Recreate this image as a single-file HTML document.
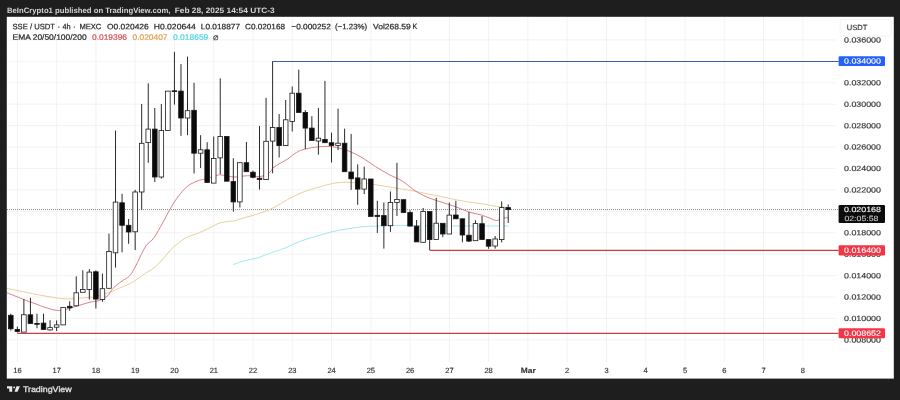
<!DOCTYPE html>
<html lang="en"><head><meta charset="utf-8"><title>SSE / USDT chart</title>
<style>
html,body{margin:0;padding:0;background:#1e1e1e;}
body{width:900px;height:400px;overflow:hidden;position:relative;font-family:"Liberation Sans",sans-serif;}
svg{position:absolute;left:0;top:0;display:block;will-change:transform}
text{font-family:"Liberation Sans",sans-serif;}
.ax{font-size:7.5px;fill:#363636;stroke:#363636;stroke-width:0.17px;}
.lg{font-size:7.8px;fill:#2a2a2a;stroke:#2a2a2a;stroke-width:0.22px;}
.hd{font-size:7.8px;font-weight:bold;fill:#d4d4d4;}
</style></head><body>
<svg width="900" height="400" viewBox="0 0 900 400">
<rect x="0" y="0" width="900" height="400" fill="#1e1e1e"/>
<rect x="6.8" y="16.8" width="887" height="361.8" fill="#ffffff"/>

<g stroke="#ebebed" stroke-width="0.6" fill="none">
<line x1="17.40" y1="17" x2="17.40" y2="362"/>
<line x1="56.67" y1="17" x2="56.67" y2="362"/>
<line x1="95.94" y1="17" x2="95.94" y2="362"/>
<line x1="135.21" y1="17" x2="135.21" y2="362"/>
<line x1="174.48" y1="17" x2="174.48" y2="362"/>
<line x1="213.75" y1="17" x2="213.75" y2="362"/>
<line x1="253.02" y1="17" x2="253.02" y2="362"/>
<line x1="292.29" y1="17" x2="292.29" y2="362"/>
<line x1="331.56" y1="17" x2="331.56" y2="362"/>
<line x1="370.83" y1="17" x2="370.83" y2="362"/>
<line x1="410.10" y1="17" x2="410.10" y2="362"/>
<line x1="449.37" y1="17" x2="449.37" y2="362"/>
<line x1="488.64" y1="17" x2="488.64" y2="362"/>
<line x1="527.91" y1="17" x2="527.91" y2="362"/>
<line x1="567.18" y1="17" x2="567.18" y2="362"/>
<line x1="606.45" y1="17" x2="606.45" y2="362"/>
<line x1="645.72" y1="17" x2="645.72" y2="362"/>
<line x1="684.99" y1="17" x2="684.99" y2="362"/>
<line x1="724.26" y1="17" x2="724.26" y2="362"/>
<line x1="763.53" y1="17" x2="763.53" y2="362"/>
<line x1="802.80" y1="17" x2="802.80" y2="362"/>
<line x1="7" y1="339.89" x2="836" y2="339.89"/>
<line x1="7" y1="318.46" x2="836" y2="318.46"/>
<line x1="7" y1="297.03" x2="836" y2="297.03"/>
<line x1="7" y1="275.60" x2="836" y2="275.60"/>
<line x1="7" y1="254.17" x2="836" y2="254.17"/>
<line x1="7" y1="232.74" x2="836" y2="232.74"/>
<line x1="7" y1="211.31" x2="836" y2="211.31"/>
<line x1="7" y1="189.88" x2="836" y2="189.88"/>
<line x1="7" y1="168.45" x2="836" y2="168.45"/>
<line x1="7" y1="147.02" x2="836" y2="147.02"/>
<line x1="7" y1="125.59" x2="836" y2="125.59"/>
<line x1="7" y1="104.16" x2="836" y2="104.16"/>
<line x1="7" y1="82.73" x2="836" y2="82.73"/>
<line x1="7" y1="61.30" x2="836" y2="61.30"/>
<line x1="7" y1="39.87" x2="836" y2="39.87"/>
</g>
<line x1="7" y1="209.55" x2="838" y2="209.55" stroke="#8a8a8a" stroke-width="1" stroke-dasharray="1 1"/>
<path d="M233.4,264.6 C235.3,263.9 241.1,261.7 245.0,260.6 C248.9,259.5 253.0,259.2 257.0,258.0 C261.0,256.8 264.3,255.3 269.0,253.6 C273.7,251.9 279.7,250.1 285.0,248.0 C290.3,245.9 295.7,243.0 301.0,241.0 C306.3,239.0 311.7,237.6 317.0,236.0 C322.3,234.4 327.7,232.8 333.0,231.6 C338.3,230.4 343.7,229.4 349.0,228.6 C354.3,227.8 360.3,227.0 365.0,226.6 C369.7,226.2 370.3,226.2 377.0,226.0 C383.7,225.8 396.2,225.4 405.0,225.4 C413.8,225.4 420.8,225.7 430.0,225.8 C439.2,225.9 450.0,226.0 460.0,226.0 C470.0,226.0 481.9,226.0 490.0,226.0 C498.1,226.0 505.4,226.0 508.5,226.0" fill="none" stroke="#9be7ee" stroke-width="0.95" stroke-linejoin="round"/>
<path d="M7.0,288.3 C9.6,288.9 16.2,290.3 22.5,291.6 C28.8,292.9 37.9,294.8 45.0,296.0 C52.1,297.2 58.2,298.5 65.0,298.8 C71.8,299.1 79.8,298.2 85.5,297.7 C91.2,297.2 94.5,297.1 99.0,296.0 C103.5,294.9 109.3,292.4 112.5,291.2 C115.7,290.0 115.5,289.8 118.2,288.6 C121.0,287.4 126.0,285.6 129.2,284.0 C132.5,282.4 134.8,280.8 137.5,279.0 C140.2,277.2 143.0,274.8 145.8,273.0 C148.5,271.2 151.2,270.2 154.0,268.0 C156.8,265.8 159.5,262.7 162.2,259.8 C165.0,256.8 167.8,252.9 170.5,250.1 C173.2,247.3 176.0,244.8 178.8,242.7 C181.5,240.5 184.2,238.6 187.0,237.2 C189.8,235.8 192.5,235.4 195.2,234.3 C198.0,233.2 200.8,232.1 203.5,230.8 C206.2,229.5 209.0,228.1 211.8,226.8 C214.5,225.4 217.0,223.7 220.0,222.8 C223.0,221.9 227.8,221.6 230.0,221.2 C232.2,220.9 230.7,221.7 233.5,221.0 C236.3,220.3 242.5,218.3 247.0,217.0 C251.5,215.7 256.0,214.7 260.5,213.1 C265.0,211.5 269.5,209.8 274.0,207.5 C278.5,205.2 283.0,202.0 287.5,199.6 C292.0,197.2 296.5,194.8 301.0,192.9 C305.5,191.0 310.0,189.8 314.5,188.4 C319.0,187.0 324.2,185.5 328.0,184.6 C331.8,183.7 334.0,183.2 337.0,182.8 C340.0,182.3 342.6,182.2 346.0,182.2 C349.4,182.2 353.3,182.7 357.5,183.0 C361.7,183.3 365.8,183.3 371.0,184.0 C376.2,184.7 383.8,186.1 389.0,186.9 C394.2,187.8 398.0,188.3 402.5,189.1 C407.0,189.8 411.5,190.5 416.0,191.4 C420.5,192.3 425.0,193.4 429.5,194.3 C434.0,195.2 438.5,196.1 443.0,197.0 C447.5,197.9 452.0,198.9 456.5,199.8 C461.0,200.7 466.1,201.6 470.0,202.2 C473.9,202.8 476.0,202.9 480.0,203.5 C484.0,204.1 490.3,205.4 494.0,206.0 C497.7,206.6 499.5,206.8 502.0,207.0 C504.5,207.2 507.8,207.3 509.0,207.4" fill="none" stroke="#ead09c" stroke-width="1" stroke-linejoin="round"/>
<path d="M7.0,292.8 C9.6,293.8 17.7,297.1 22.5,299.0 C27.3,300.9 32.2,302.6 36.0,304.0 C39.8,305.4 41.6,306.3 45.0,307.4 C48.4,308.4 52.9,309.9 56.2,310.3 C59.6,310.7 61.9,310.3 65.2,309.6 C68.6,308.9 72.4,307.5 76.5,306.2 C80.6,305.0 86.2,303.1 90.0,302.2 C93.8,301.3 96.0,301.7 99.0,300.6 C102.0,299.5 105.7,297.5 108.0,295.5 C110.3,293.5 110.6,290.9 112.8,288.6 C114.9,286.3 118.2,283.8 121.0,281.8 C123.8,279.7 127.2,278.2 129.2,276.2 C131.3,274.3 132.1,272.3 133.5,270.0 C134.9,267.7 135.5,266.5 137.5,262.5 C139.5,258.5 143.0,250.1 145.8,246.0 C148.5,241.9 151.2,241.7 154.0,237.8 C156.8,233.8 159.8,227.9 162.8,222.6 C165.8,217.3 168.9,210.9 171.8,206.1 C174.7,201.3 177.5,197.2 180.3,193.8 C183.1,190.3 185.6,187.7 188.5,185.5 C191.4,183.3 195.7,181.8 198.0,180.8 C200.3,179.8 199.5,180.4 202.5,179.6 C205.5,178.8 213.0,176.6 216.0,175.8 C219.0,175.0 217.5,174.6 220.5,174.8 C223.5,175.0 229.5,176.8 234.0,177.0 C238.5,177.2 243.0,175.8 247.5,175.7 C252.0,175.6 257.2,177.0 261.0,176.4 C264.8,175.8 267.8,173.6 270.0,172.0 C272.2,170.4 271.1,169.2 274.0,167.0 C276.9,164.8 283.8,161.5 287.5,159.1 C291.2,156.7 293.5,154.1 296.5,152.4 C299.5,150.7 301.8,149.9 305.5,149.0 C309.2,148.1 314.5,147.1 319.0,146.8 C323.5,146.4 327.6,146.1 332.5,146.8 C337.4,147.4 343.6,149.1 348.5,150.9 C353.4,152.7 357.5,155.0 362.0,157.6 C366.5,160.2 371.0,163.8 375.5,166.6 C380.0,169.4 384.5,172.1 389.0,174.5 C393.5,176.9 398.0,178.4 402.5,181.2 C407.0,184.1 411.5,188.6 416.0,191.4 C420.5,194.2 425.0,196.2 429.5,198.1 C434.0,200.0 438.5,201.1 443.0,202.6 C447.5,204.1 452.0,205.5 456.5,207.1 C461.0,208.7 465.9,211.0 470.0,212.3 C474.1,213.6 477.7,213.9 481.0,214.9 C484.3,215.9 487.4,217.3 490.0,218.2 C492.6,219.2 494.1,220.5 496.4,220.5 C498.7,220.5 501.8,218.4 503.8,218.0 C505.8,217.6 507.7,217.8 508.5,217.8" fill="none" stroke="#d67a81" stroke-width="0.95" stroke-linejoin="round"/>
<line x1="272.6" y1="61.45" x2="838.6" y2="61.45" stroke="#3362ad" stroke-width="1.05"/>
<line x1="429.7" y1="250.35" x2="838.6" y2="250.35" stroke="#cf3c48" stroke-width="1.15"/>
<line x1="17.3" y1="333.3" x2="838.6" y2="333.3" stroke="#cf3c48" stroke-width="1.15"/>
<g stroke="#1a1a1a" stroke-width="0.8">
<line x1="10.80" y1="313.7" x2="10.80" y2="330.6" stroke="#2a2a2a" stroke-width="1"/>
<rect x="8.50" y="315.3" width="4.6" height="13.5" fill="#0a0a0a"/>
<line x1="17.34" y1="326.5" x2="17.34" y2="332.4" stroke="#2a2a2a" stroke-width="1"/>
<rect x="15.04" y="329.4" width="4.6" height="2.1" fill="#0a0a0a"/>
<line x1="23.89" y1="299.0" x2="23.89" y2="332.1" stroke="#2a2a2a" stroke-width="1"/>
<rect x="21.59" y="314.8" width="4.6" height="17.3" fill="#ffffff"/>
<line x1="30.43" y1="297.9" x2="30.43" y2="323.6" stroke="#2a2a2a" stroke-width="1"/>
<rect x="28.13" y="314.8" width="4.6" height="8.8" fill="#0a0a0a"/>
<line x1="36.98" y1="313.7" x2="36.98" y2="328.3" stroke="#2a2a2a" stroke-width="1"/>
<rect x="34.68" y="323.5" width="4.6" height="0.8" fill="#0a0a0a"/>
<line x1="43.53" y1="313.7" x2="43.53" y2="329.4" stroke="#2a2a2a" stroke-width="1"/>
<rect x="41.23" y="323.1" width="4.6" height="6.3" fill="#0a0a0a"/>
<line x1="50.07" y1="320.2" x2="50.07" y2="330.6" stroke="#2a2a2a" stroke-width="1"/>
<rect x="47.77" y="327.6" width="4.6" height="2.3" fill="#ffffff"/>
<line x1="56.61" y1="320.4" x2="56.61" y2="331.0" stroke="#2a2a2a" stroke-width="1"/>
<rect x="54.31" y="324.9" width="4.6" height="2.3" fill="#ffffff"/>
<line x1="63.16" y1="307.4" x2="63.16" y2="324.9" stroke="#2a2a2a" stroke-width="1"/>
<rect x="60.86" y="307.4" width="4.6" height="17.5" fill="#ffffff"/>
<line x1="69.70" y1="301.3" x2="69.70" y2="310.8" stroke="#2a2a2a" stroke-width="1"/>
<rect x="67.41" y="306.3" width="4.6" height="1.5" fill="#0a0a0a"/>
<line x1="76.25" y1="276.3" x2="76.25" y2="306.3" stroke="#2a2a2a" stroke-width="1"/>
<rect x="73.95" y="292.8" width="4.6" height="13.0" fill="#ffffff"/>
<line x1="82.80" y1="270.3" x2="82.80" y2="292.3" stroke="#2a2a2a" stroke-width="1"/>
<rect x="80.50" y="289.4" width="4.6" height="2.9" fill="#ffffff"/>
<line x1="89.34" y1="269.1" x2="89.34" y2="299.5" stroke="#2a2a2a" stroke-width="1"/>
<rect x="87.04" y="272.1" width="4.6" height="17.3" fill="#ffffff"/>
<line x1="95.88" y1="270.3" x2="95.88" y2="308.5" stroke="#2a2a2a" stroke-width="1"/>
<rect x="93.58" y="271.8" width="4.6" height="27.3" fill="#0a0a0a"/>
<line x1="102.43" y1="273.6" x2="102.43" y2="301.8" stroke="#2a2a2a" stroke-width="1"/>
<rect x="100.13" y="288.7" width="4.6" height="10.8" fill="#ffffff"/>
<line x1="108.97" y1="233.6" x2="108.97" y2="288.3" stroke="#2a2a2a" stroke-width="1"/>
<rect x="106.67" y="251.5" width="4.6" height="36.8" fill="#ffffff"/>
<line x1="115.52" y1="130.5" x2="115.52" y2="267.6" stroke="#2a2a2a" stroke-width="1"/>
<rect x="113.22" y="202.1" width="4.6" height="50.7" fill="#ffffff"/>
<line x1="122.06" y1="193.8" x2="122.06" y2="252.3" stroke="#2a2a2a" stroke-width="1"/>
<rect x="119.77" y="202.8" width="4.6" height="22.5" fill="#0a0a0a"/>
<line x1="128.61" y1="219.0" x2="128.61" y2="243.8" stroke="#2a2a2a" stroke-width="1"/>
<rect x="126.31" y="225.3" width="4.6" height="6.7" fill="#0a0a0a"/>
<line x1="135.16" y1="189.8" x2="135.16" y2="250.0" stroke="#2a2a2a" stroke-width="1"/>
<rect x="132.85" y="192.0" width="4.6" height="39.8" fill="#ffffff"/>
<line x1="141.70" y1="104.0" x2="141.70" y2="209.6" stroke="#2a2a2a" stroke-width="1"/>
<rect x="139.40" y="143.3" width="4.6" height="48.7" fill="#ffffff"/>
<line x1="148.25" y1="83.3" x2="148.25" y2="162.9" stroke="#2a2a2a" stroke-width="1"/>
<rect x="145.94" y="129.1" width="4.6" height="13.5" fill="#ffffff"/>
<line x1="154.79" y1="108.0" x2="154.79" y2="182.0" stroke="#2a2a2a" stroke-width="1"/>
<rect x="152.49" y="129.1" width="4.6" height="47.9" fill="#0a0a0a"/>
<line x1="161.34" y1="104.0" x2="161.34" y2="178.6" stroke="#2a2a2a" stroke-width="1"/>
<rect x="159.03" y="130.6" width="4.6" height="46.4" fill="#ffffff"/>
<line x1="167.88" y1="91.1" x2="167.88" y2="130.4" stroke="#2a2a2a" stroke-width="1"/>
<rect x="165.58" y="91.1" width="4.6" height="39.3" fill="#ffffff"/>
<line x1="174.43" y1="51.8" x2="174.43" y2="104.6" stroke="#2a2a2a" stroke-width="1"/>
<rect x="172.12" y="90.8" width="4.6" height="0.8" fill="#0a0a0a"/>
<line x1="180.97" y1="64.1" x2="180.97" y2="135.9" stroke="#2a2a2a" stroke-width="1"/>
<rect x="178.67" y="91.1" width="4.6" height="26.9" fill="#0a0a0a"/>
<line x1="187.52" y1="56.7" x2="187.52" y2="135.2" stroke="#2a2a2a" stroke-width="1"/>
<rect x="185.22" y="110.7" width="4.6" height="7.3" fill="#ffffff"/>
<line x1="194.06" y1="82.8" x2="194.06" y2="173.5" stroke="#2a2a2a" stroke-width="1"/>
<rect x="191.76" y="110.3" width="4.6" height="42.9" fill="#0a0a0a"/>
<line x1="200.61" y1="135.2" x2="200.61" y2="168.0" stroke="#2a2a2a" stroke-width="1"/>
<rect x="198.31" y="149.8" width="4.6" height="3.4" fill="#ffffff"/>
<line x1="207.15" y1="142.2" x2="207.15" y2="182.5" stroke="#2a2a2a" stroke-width="1"/>
<rect x="204.85" y="149.8" width="4.6" height="32.7" fill="#0a0a0a"/>
<line x1="213.70" y1="136.5" x2="213.70" y2="183.1" stroke="#2a2a2a" stroke-width="1"/>
<rect x="211.40" y="158.4" width="4.6" height="24.7" fill="#ffffff"/>
<line x1="220.24" y1="78.3" x2="220.24" y2="174.1" stroke="#2a2a2a" stroke-width="1"/>
<rect x="217.94" y="136.5" width="4.6" height="21.4" fill="#ffffff"/>
<line x1="226.78" y1="136.5" x2="226.78" y2="181.2" stroke="#2a2a2a" stroke-width="1"/>
<rect x="224.48" y="136.5" width="4.6" height="44.7" fill="#0a0a0a"/>
<line x1="233.33" y1="158.2" x2="233.33" y2="211.6" stroke="#2a2a2a" stroke-width="1"/>
<rect x="231.03" y="181.6" width="4.6" height="20.3" fill="#0a0a0a"/>
<line x1="239.88" y1="162.7" x2="239.88" y2="207.5" stroke="#2a2a2a" stroke-width="1"/>
<rect x="237.57" y="162.7" width="4.6" height="39.2" fill="#ffffff"/>
<line x1="246.42" y1="141.9" x2="246.42" y2="171.7" stroke="#2a2a2a" stroke-width="1"/>
<rect x="244.12" y="162.7" width="4.6" height="9.0" fill="#0a0a0a"/>
<line x1="252.97" y1="170.6" x2="252.97" y2="178.3" stroke="#2a2a2a" stroke-width="1"/>
<rect x="250.66" y="172.2" width="4.6" height="5.1" fill="#0a0a0a"/>
<line x1="259.51" y1="126.0" x2="259.51" y2="189.6" stroke="#2a2a2a" stroke-width="1"/>
<rect x="257.21" y="178.2" width="4.6" height="1.3" fill="#0a0a0a"/>
<line x1="266.06" y1="97.8" x2="266.06" y2="179.6" stroke="#2a2a2a" stroke-width="1"/>
<rect x="263.75" y="141.3" width="4.6" height="38.3" fill="#ffffff"/>
<line x1="272.60" y1="61.3" x2="272.60" y2="173.3" stroke="#2a2a2a" stroke-width="1"/>
<rect x="270.30" y="127.5" width="4.6" height="13.6" fill="#ffffff"/>
<line x1="279.14" y1="114.0" x2="279.14" y2="157.5" stroke="#2a2a2a" stroke-width="1"/>
<rect x="276.84" y="127.5" width="4.6" height="18.1" fill="#0a0a0a"/>
<line x1="285.69" y1="100.0" x2="285.69" y2="145.6" stroke="#2a2a2a" stroke-width="1"/>
<rect x="283.39" y="119.8" width="4.6" height="25.8" fill="#ffffff"/>
<line x1="292.24" y1="86.5" x2="292.24" y2="131.5" stroke="#2a2a2a" stroke-width="1"/>
<rect x="289.94" y="93.2" width="4.6" height="28.2" fill="#ffffff"/>
<line x1="298.78" y1="69.6" x2="298.78" y2="112.4" stroke="#2a2a2a" stroke-width="1"/>
<rect x="296.48" y="93.2" width="4.6" height="19.2" fill="#0a0a0a"/>
<line x1="305.32" y1="110.1" x2="305.32" y2="149.0" stroke="#2a2a2a" stroke-width="1"/>
<rect x="303.02" y="112.4" width="4.6" height="15.7" fill="#0a0a0a"/>
<line x1="311.87" y1="116.2" x2="311.87" y2="140.5" stroke="#2a2a2a" stroke-width="1"/>
<rect x="309.57" y="128.1" width="4.6" height="12.4" fill="#0a0a0a"/>
<line x1="318.42" y1="107.9" x2="318.42" y2="154.6" stroke="#2a2a2a" stroke-width="1"/>
<rect x="316.12" y="138.2" width="4.6" height="2.8" fill="#ffffff"/>
<line x1="324.96" y1="80.9" x2="324.96" y2="142.8" stroke="#2a2a2a" stroke-width="1"/>
<rect x="322.66" y="139.4" width="4.6" height="3.3" fill="#0a0a0a"/>
<line x1="331.50" y1="132.6" x2="331.50" y2="162.5" stroke="#2a2a2a" stroke-width="1"/>
<rect x="329.20" y="142.7" width="4.6" height="2.9" fill="#0a0a0a"/>
<line x1="338.05" y1="108.6" x2="338.05" y2="150.1" stroke="#2a2a2a" stroke-width="1"/>
<rect x="335.75" y="143.2" width="4.6" height="2.4" fill="#ffffff"/>
<line x1="344.60" y1="128.6" x2="344.60" y2="171.7" stroke="#2a2a2a" stroke-width="1"/>
<rect x="342.30" y="143.2" width="4.6" height="28.5" fill="#0a0a0a"/>
<line x1="351.14" y1="133.9" x2="351.14" y2="189.9" stroke="#2a2a2a" stroke-width="1"/>
<rect x="348.84" y="172.0" width="4.6" height="6.8" fill="#0a0a0a"/>
<line x1="357.69" y1="164.4" x2="357.69" y2="204.8" stroke="#2a2a2a" stroke-width="1"/>
<rect x="355.38" y="177.9" width="4.6" height="11.2" fill="#0a0a0a"/>
<line x1="364.23" y1="166.6" x2="364.23" y2="194.2" stroke="#2a2a2a" stroke-width="1"/>
<rect x="361.93" y="179.0" width="4.6" height="10.1" fill="#ffffff"/>
<line x1="370.78" y1="179.0" x2="370.78" y2="216.4" stroke="#2a2a2a" stroke-width="1"/>
<rect x="368.48" y="179.0" width="4.6" height="37.4" fill="#0a0a0a"/>
<line x1="377.32" y1="200.8" x2="377.32" y2="232.9" stroke="#2a2a2a" stroke-width="1"/>
<rect x="375.02" y="215.3" width="4.6" height="1.2" fill="#0a0a0a"/>
<line x1="383.87" y1="202.5" x2="383.87" y2="248.6" stroke="#2a2a2a" stroke-width="1"/>
<rect x="381.56" y="215.6" width="4.6" height="10.1" fill="#0a0a0a"/>
<line x1="390.41" y1="191.5" x2="390.41" y2="231.8" stroke="#2a2a2a" stroke-width="1"/>
<rect x="388.11" y="202.5" width="4.6" height="23.2" fill="#ffffff"/>
<line x1="396.95" y1="162.8" x2="396.95" y2="216.0" stroke="#2a2a2a" stroke-width="1"/>
<rect x="394.65" y="199.4" width="4.6" height="3.1" fill="#ffffff"/>
<line x1="403.50" y1="199.7" x2="403.50" y2="212.6" stroke="#2a2a2a" stroke-width="1"/>
<rect x="401.20" y="199.7" width="4.6" height="12.9" fill="#0a0a0a"/>
<line x1="410.05" y1="210.2" x2="410.05" y2="226.1" stroke="#2a2a2a" stroke-width="1"/>
<rect x="407.75" y="212.5" width="4.6" height="13.6" fill="#0a0a0a"/>
<line x1="416.59" y1="220.0" x2="416.59" y2="241.9" stroke="#2a2a2a" stroke-width="1"/>
<rect x="414.29" y="226.1" width="4.6" height="15.8" fill="#0a0a0a"/>
<line x1="423.13" y1="208.0" x2="423.13" y2="242.3" stroke="#2a2a2a" stroke-width="1"/>
<rect x="420.83" y="211.4" width="4.6" height="30.9" fill="#ffffff"/>
<line x1="429.68" y1="211.5" x2="429.68" y2="250.2" stroke="#2a2a2a" stroke-width="1"/>
<rect x="427.38" y="211.5" width="4.6" height="28.1" fill="#0a0a0a"/>
<line x1="436.23" y1="197.8" x2="436.23" y2="239.6" stroke="#2a2a2a" stroke-width="1"/>
<rect x="433.93" y="223.2" width="4.6" height="16.4" fill="#ffffff"/>
<line x1="442.77" y1="223.3" x2="442.77" y2="237.2" stroke="#2a2a2a" stroke-width="1"/>
<rect x="440.47" y="223.3" width="4.6" height="10.7" fill="#0a0a0a"/>
<line x1="449.31" y1="202.5" x2="449.31" y2="234.0" stroke="#2a2a2a" stroke-width="1"/>
<rect x="447.01" y="215.1" width="4.6" height="18.9" fill="#ffffff"/>
<line x1="455.86" y1="200.8" x2="455.86" y2="218.8" stroke="#2a2a2a" stroke-width="1"/>
<rect x="453.56" y="215.0" width="4.6" height="3.8" fill="#0a0a0a"/>
<line x1="462.41" y1="218.8" x2="462.41" y2="242.3" stroke="#2a2a2a" stroke-width="1"/>
<rect x="460.11" y="218.8" width="4.6" height="16.2" fill="#0a0a0a"/>
<line x1="468.95" y1="212.0" x2="468.95" y2="242.0" stroke="#2a2a2a" stroke-width="1"/>
<rect x="466.65" y="235.2" width="4.6" height="5.9" fill="#0a0a0a"/>
<line x1="475.50" y1="220.2" x2="475.50" y2="240.7" stroke="#2a2a2a" stroke-width="1"/>
<rect x="473.19" y="223.6" width="4.6" height="17.1" fill="#ffffff"/>
<line x1="482.04" y1="216.0" x2="482.04" y2="239.6" stroke="#2a2a2a" stroke-width="1"/>
<rect x="479.74" y="223.7" width="4.6" height="15.9" fill="#0a0a0a"/>
<line x1="488.58" y1="239.6" x2="488.58" y2="248.8" stroke="#2a2a2a" stroke-width="1"/>
<rect x="486.28" y="239.6" width="4.6" height="6.6" fill="#0a0a0a"/>
<line x1="495.13" y1="236.0" x2="495.13" y2="248.6" stroke="#2a2a2a" stroke-width="1"/>
<rect x="492.83" y="239.0" width="4.6" height="7.0" fill="#ffffff"/>
<line x1="501.68" y1="201.4" x2="501.68" y2="242.4" stroke="#2a2a2a" stroke-width="1"/>
<rect x="499.38" y="207.6" width="4.6" height="32.0" fill="#ffffff"/>
<line x1="508.22" y1="204.4" x2="508.22" y2="223.0" stroke="#2a2a2a" stroke-width="1"/>
<rect x="505.92" y="207.6" width="4.6" height="2.0" fill="#0a0a0a"/>
</g>
<text class="ax" x="844" y="342.47" transform="rotate(0.03 844 342.47)" textLength="37.0" lengthAdjust="spacingAndGlyphs">0.008000</text>
<text class="ax" x="844" y="321.04" transform="rotate(0.03 844 321.04)" textLength="37.0" lengthAdjust="spacingAndGlyphs">0.010000</text>
<text class="ax" x="844" y="299.61" transform="rotate(0.03 844 299.61)" textLength="37.0" lengthAdjust="spacingAndGlyphs">0.012000</text>
<text class="ax" x="844" y="278.18" transform="rotate(0.03 844 278.18)" textLength="37.0" lengthAdjust="spacingAndGlyphs">0.014000</text>
<text class="ax" x="844" y="256.75" transform="rotate(0.03 844 256.75)" textLength="37.0" lengthAdjust="spacingAndGlyphs">0.016000</text>
<text class="ax" x="844" y="235.32" transform="rotate(0.03 844 235.32)" textLength="37.0" lengthAdjust="spacingAndGlyphs">0.018000</text>
<text class="ax" x="844" y="213.89" transform="rotate(0.03 844 213.89)" textLength="37.0" lengthAdjust="spacingAndGlyphs">0.020000</text>
<text class="ax" x="844" y="192.46" transform="rotate(0.03 844 192.46)" textLength="37.0" lengthAdjust="spacingAndGlyphs">0.022000</text>
<text class="ax" x="844" y="171.03" transform="rotate(0.03 844 171.03)" textLength="37.0" lengthAdjust="spacingAndGlyphs">0.024000</text>
<text class="ax" x="844" y="149.6" transform="rotate(0.03 844 149.6)" textLength="37.0" lengthAdjust="spacingAndGlyphs">0.026000</text>
<text class="ax" x="844" y="128.17" transform="rotate(0.03 844 128.17)" textLength="37.0" lengthAdjust="spacingAndGlyphs">0.028000</text>
<text class="ax" x="844" y="106.74" transform="rotate(0.03 844 106.74)" textLength="37.0" lengthAdjust="spacingAndGlyphs">0.030000</text>
<text class="ax" x="844" y="85.31" transform="rotate(0.03 844 85.31)" textLength="37.0" lengthAdjust="spacingAndGlyphs">0.032000</text>
<text class="ax" x="844" y="63.88" transform="rotate(0.03 844 63.88)" textLength="37.0" lengthAdjust="spacingAndGlyphs">0.034000</text>
<text class="ax" x="844" y="42.45" transform="rotate(0.03 844 42.45)" textLength="37.0" lengthAdjust="spacingAndGlyphs">0.036000</text>
<rect x="840.3" y="19.6" width="51" height="16.6" rx="2" fill="none" stroke="#f0f0f2" stroke-width="0.8"/>
<text class="ax" x="846.7" y="29.9" transform="rotate(0.03 846.7 29.9)" textLength="20.6" lengthAdjust="spacingAndGlyphs">USDT</text>
<rect x="838.6" y="56.2" width="46.4" height="9.9" rx="1.2" fill="#2660fa"/>
<text class="ax" x="844" y="63.6" transform="rotate(0.03 844 63.6)" textLength="37.0" lengthAdjust="spacingAndGlyphs" style="fill:#fff;stroke:#fff;stroke-width:0.1px">0.034000</text>
<rect x="838.6" y="245.3" width="46.4" height="10.1" rx="1.2" fill="#f23645"/>
<text class="ax" x="844" y="252.8" transform="rotate(0.03 844 252.8)" textLength="37.0" lengthAdjust="spacingAndGlyphs" style="fill:#fff;stroke:#fff;stroke-width:0.1px">0.016400</text>
<rect x="838.6" y="328.3" width="46.4" height="10" rx="1.2" fill="#f23645"/>
<text class="ax" x="844" y="335.75" transform="rotate(0.03 844 335.75)" textLength="37.0" lengthAdjust="spacingAndGlyphs" style="fill:#fff;stroke:#fff;stroke-width:0.1px">0.008652</text>
<rect x="838.6" y="205" width="46.4" height="18" rx="1.2" fill="#0c0c0c"/>
<text class="ax" x="844" y="212.05" transform="rotate(0.03 844 212.05)" textLength="37.0" lengthAdjust="spacingAndGlyphs" style="fill:#fff;stroke:#fff;stroke-width:0.1px">0.020168</text>
<text class="ax" x="844.4" y="221.05" transform="rotate(0.03 844.4 221.05)" textLength="34.0" lengthAdjust="spacingAndGlyphs" style="fill:#c8c8c8;stroke:#c8c8c8;stroke-width:0.1px">02:05:58</text>
<text class="ax" x="17.4" y="373.1" transform="rotate(0.03 17.4 373.1)" text-anchor="middle">16</text>
<text class="ax" x="56.7" y="373.1" transform="rotate(0.03 56.7 373.1)" text-anchor="middle">17</text>
<text class="ax" x="95.9" y="373.1" transform="rotate(0.03 95.9 373.1)" text-anchor="middle">18</text>
<text class="ax" x="135.2" y="373.1" transform="rotate(0.03 135.2 373.1)" text-anchor="middle">19</text>
<text class="ax" x="174.5" y="373.1" transform="rotate(0.03 174.5 373.1)" text-anchor="middle">20</text>
<text class="ax" x="213.8" y="373.1" transform="rotate(0.03 213.8 373.1)" text-anchor="middle">21</text>
<text class="ax" x="253.0" y="373.1" transform="rotate(0.03 253.0 373.1)" text-anchor="middle">22</text>
<text class="ax" x="292.3" y="373.1" transform="rotate(0.03 292.3 373.1)" text-anchor="middle">23</text>
<text class="ax" x="331.6" y="373.1" transform="rotate(0.03 331.6 373.1)" text-anchor="middle">24</text>
<text class="ax" x="370.8" y="373.1" transform="rotate(0.03 370.8 373.1)" text-anchor="middle">25</text>
<text class="ax" x="410.1" y="373.1" transform="rotate(0.03 410.1 373.1)" text-anchor="middle">26</text>
<text class="ax" x="449.4" y="373.1" transform="rotate(0.03 449.4 373.1)" text-anchor="middle">27</text>
<text class="ax" x="488.6" y="373.1" transform="rotate(0.03 488.6 373.1)" text-anchor="middle">28</text>
<text class="ax" x="520.8" y="373.1" transform="rotate(0.03 520.8 373.1)" textLength="15.0" lengthAdjust="spacingAndGlyphs" style="font-weight:bold;stroke-width:0.1px">Mar</text>
<text class="ax" x="567.2" y="373.1" transform="rotate(0.03 567.2 373.1)" text-anchor="middle">2</text>
<text class="ax" x="606.5" y="373.1" transform="rotate(0.03 606.5 373.1)" text-anchor="middle">3</text>
<text class="ax" x="645.7" y="373.1" transform="rotate(0.03 645.7 373.1)" text-anchor="middle">4</text>
<text class="ax" x="685.0" y="373.1" transform="rotate(0.03 685.0 373.1)" text-anchor="middle">5</text>
<text class="ax" x="724.3" y="373.1" transform="rotate(0.03 724.3 373.1)" text-anchor="middle">6</text>
<text class="ax" x="763.5" y="373.1" transform="rotate(0.03 763.5 373.1)" text-anchor="middle">7</text>
<text class="ax" x="802.8" y="373.1" transform="rotate(0.03 802.8 373.1)" text-anchor="middle">8</text>
<text class="hd" x="7" y="12.9" transform="rotate(0.03 7 12.9)" textLength="163.5" lengthAdjust="spacingAndGlyphs">BeInCrypto1 published on TradingView.com,</text>
<text class="hd" x="174.7" y="12.9" transform="rotate(0.03 174.7 12.9)" textLength="100.0" lengthAdjust="spacingAndGlyphs">Feb 28, 2025 14:54 UTC-3</text>
<text class="lg" x="12.5" y="29.2" transform="rotate(0.03 12.5 29.2)" textLength="42.5" lengthAdjust="spacingAndGlyphs">SSE / USDT</text>
<text class="lg" x="57.6" y="29.2" transform="rotate(0.03 57.6 29.2)">·</text>
<text class="lg" x="62.4" y="29.2" transform="rotate(0.03 62.4 29.2)" textLength="8.2" lengthAdjust="spacingAndGlyphs">4h</text>
<text class="lg" x="73.1" y="29.2" transform="rotate(0.03 73.1 29.2)">·</text>
<text class="lg" x="79.5" y="29.2" transform="rotate(0.03 79.5 29.2)" textLength="21.8" lengthAdjust="spacingAndGlyphs">MEXC</text>
<text class="lg" x="107" y="29.2" transform="rotate(0.03 107 29.2)" textLength="41.7" lengthAdjust="spacingAndGlyphs">O0.020426</text>
<text class="lg" x="153.7" y="29.2" transform="rotate(0.03 153.7 29.2)" textLength="42.1" lengthAdjust="spacingAndGlyphs">H0.020644</text>
<text class="lg" x="200.8" y="29.2" transform="rotate(0.03 200.8 29.2)" textLength="39.2" lengthAdjust="spacingAndGlyphs">L0.018877</text>
<text class="lg" x="245" y="29.2" transform="rotate(0.03 245 29.2)" textLength="40.0" lengthAdjust="spacingAndGlyphs">C0.020168</text>
<text class="lg" x="291.3" y="29.2" transform="rotate(0.03 291.3 29.2)" textLength="39.5" lengthAdjust="spacingAndGlyphs">−0.000252</text>
<text class="lg" x="335" y="29.2" transform="rotate(0.03 335 29.2)" textLength="32.2" lengthAdjust="spacingAndGlyphs">(−1.23%)</text>
<text class="lg" x="373" y="29.2" transform="rotate(0.03 373 29.2)" textLength="37.8" lengthAdjust="spacingAndGlyphs">Vol268.59</text>
<text class="lg" x="412.5" y="29.2" transform="rotate(0.03 412.5 29.2)" textLength="4.7" lengthAdjust="spacingAndGlyphs">K</text>
<text class="lg" x="12.5" y="39.65" transform="rotate(0.03 12.5 39.65)" textLength="74.2" lengthAdjust="spacingAndGlyphs">EMA 20/50/100/200</text>
<text class="lg" x="92" y="39.65" transform="rotate(0.03 92 39.65)" textLength="35.0" lengthAdjust="spacingAndGlyphs" style="fill:#d1545c;stroke:#d1545c">0.019396</text>
<text class="lg" x="132.5" y="39.65" transform="rotate(0.03 132.5 39.65)" textLength="35.0" lengthAdjust="spacingAndGlyphs" style="fill:#e0a052;stroke:#e0a052">0.020407</text>
<text class="lg" x="173" y="39.65" transform="rotate(0.03 173 39.65)" textLength="35.3" lengthAdjust="spacingAndGlyphs" style="fill:#52d5de;stroke:#52d5de">0.018659</text>
<text x="212.6" y="39.6" transform="rotate(0.03 212 39)" style="font-size:6.4px;fill:#3a3a3a;stroke:#3a3a3a;stroke-width:0.3px">∅</text>
<g fill="#ececec"><path d="M7,386.2 H12.2 V391.8 H9.3 V388.4 H7 Z"/><circle cx="14.15" cy="387.4" r="0.95"/><path d="M16.5,386.2 H19.9 L17.5,391.8 H14.5 Z"/></g>
<text x="22.9" y="392.05" transform="rotate(0.03 22.9 392)" textLength="48.8" lengthAdjust="spacingAndGlyphs" style="font-size:8px;fill:#dedede;stroke:#dedede;stroke-width:0.35px">TradingView</text>
</svg></body></html>
